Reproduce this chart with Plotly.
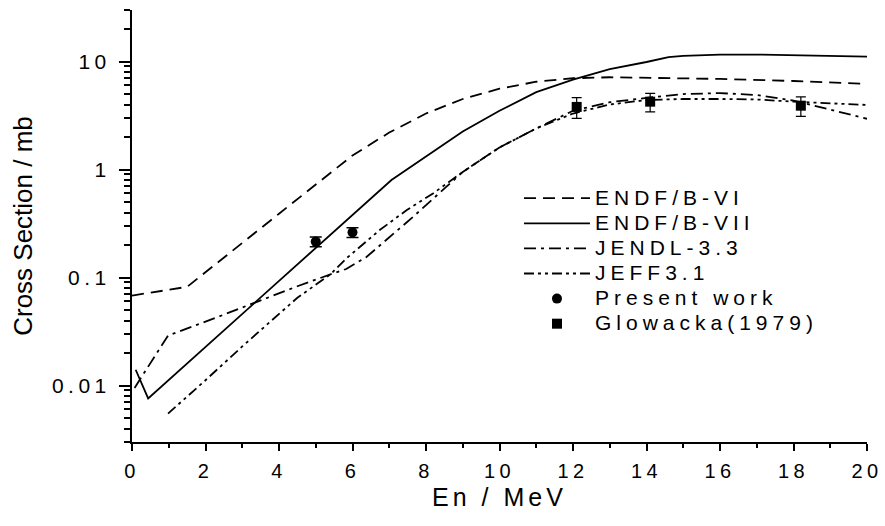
import plotly.graph_objects as go

# ---- data ----
endf6_x = [0, 1.5, 4, 5, 6, 7, 8, 9, 10, 11, 12, 13, 14, 16, 18, 20]
endf6_y = [0.068, 0.082, 0.39, 0.73, 1.35, 2.2, 3.3, 4.5, 5.6, 6.5, 7.0, 7.15, 7.1, 6.9, 6.6, 6.2]

endf7_x = [0.1, 0.44, 7.06, 8, 9, 10, 11, 12, 13, 14, 14.6, 15, 16, 17, 18, 19, 20]
endf7_y = [0.014, 0.0076, 0.80, 1.33, 2.25, 3.5, 5.2, 6.8, 8.5, 9.9, 11.0, 11.3, 11.6, 11.6, 11.4, 11.2, 11.1]

jendl_x = [0.07, 0.98, 2, 3.3, 4.5, 5.4, 5.83, 6.38, 7.01, 7.65, 8.55, 9, 10, 11, 12, 13, 14, 15, 16, 17, 18, 19, 20]
jendl_y = [0.0095, 0.029, 0.039, 0.058, 0.083, 0.107, 0.12, 0.155, 0.238, 0.365, 0.69, 0.95, 1.6, 2.4, 3.5, 4.2, 4.6, 5.0, 5.1, 4.9, 4.35, 3.6, 2.95]

jeff_x = [0.98, 2, 3, 4, 4.5, 5.4, 5.83, 6.74, 7.47, 8.19, 9, 10, 11, 12, 13, 14, 15, 16, 17, 18, 19, 20]
jeff_y = [0.0055, 0.0112, 0.023, 0.046, 0.065, 0.107, 0.15, 0.275, 0.42, 0.6, 0.95, 1.6, 2.4, 3.3, 4.0, 4.4, 4.5, 4.5, 4.45, 4.25, 4.1, 3.96]

present_x = [5, 6]
present_y = [0.215, 0.262]
present_err = [0.022, 0.027]

glow_x = [12.1, 14.1, 18.2]
glow_y = [3.8, 4.25, 3.9]
glow_err = [0.83, 0.83, 0.8]

x_ticks = [0, 2, 4, 6, 8, 10, 12, 14, 16, 18, 20]
y_ticks = [0.01, 0.1, 1, 10]
y_tick_text = ["0.01", "0.1", "1", "10"]
y_minor = [k * 10.0 ** n for n in range(-3, 2) for k in range(2, 10) if 0.003 <= k * 10.0 ** n <= 30]

FONT = "Arial, Liberation Sans, sans-serif"
LW = 1.8

fig = go.Figure()
fig.add_trace(go.Scatter(x=endf6_x, y=endf6_y, mode="lines", name="ENDF/B-VI",
                         line=dict(color="black", width=LW, dash="12px,7px")))
fig.add_trace(go.Scatter(x=endf7_x, y=endf7_y, mode="lines", name="ENDF/B-VII",
                         line=dict(color="black", width=LW)))
fig.add_trace(go.Scatter(x=jendl_x, y=jendl_y, mode="lines", name="JENDL-3.3",
                         line=dict(color="black", width=LW, dash="12px,5px,3px,5px")))
fig.add_trace(go.Scatter(x=jeff_x, y=jeff_y, mode="lines", name="JEFF3.1",
                         line=dict(color="black", width=LW, dash="10px,4px,3px,4px,3px,4px")))
fig.add_trace(go.Scatter(x=present_x, y=present_y, mode="markers", name="Present work",
                         marker=dict(symbol="circle", size=10, color="black"),
                         error_y=dict(type="data", array=present_err, color="black",
                                      thickness=1.5, width=6)))
fig.add_trace(go.Scatter(x=glow_x, y=glow_y, mode="markers", name="Glowacka(1979)",
                         marker=dict(symbol="square", size=10, color="black"),
                         error_y=dict(type="data", array=glow_err, color="black",
                                      thickness=1.2, width=5)))

fig.update_layout(
    width=885, height=526,
    margin=dict(l=132, r=18, t=10, b=84, autoexpand=False),
    paper_bgcolor="white", plot_bgcolor="white",
    font=dict(family=FONT, color="black"),
    showlegend=True,
    legend=dict(x=0.5265, y=0.605, xanchor="left", yanchor="top",
                bgcolor="rgba(0,0,0,0)", borderwidth=0,
                font=dict(size=17, family=FONT, color="black"),
                itemwidth=66, tracegroupgap=0),
    xaxis=dict(range=[0, 20], tickvals=x_ticks, showgrid=False, zeroline=False,
               automargin=False,
               showline=True, linecolor="black", linewidth=2,
               ticks="outside", ticklen=7, tickwidth=2, tickcolor="black",
               ticklabelstandoff=3,
               tickfont=dict(size=20, family=FONT),
               minor=dict(dtick=1, ticks="outside", ticklen=4, tickwidth=2, tickcolor="black", showgrid=False),
               title=dict(text="En / MeV", font=dict(size=25, family=FONT), standoff=7)),
    yaxis=dict(type="log", range=[-2.5229, 1.4771], tickvals=y_ticks, ticktext=y_tick_text,
               showgrid=False, zeroline=False,
               automargin=False,
               showline=True, linecolor="black", linewidth=2,
               ticks="outside", ticklen=11, tickwidth=2, tickcolor="black",
               ticklabelstandoff=4,
               tickfont=dict(size=21, family=FONT),
               minor=dict(tickvals=y_minor, ticks="outside", ticklen=6, tickwidth=1.5, tickcolor="black", showgrid=False),
               title=dict(text="Cross Section / mb", font=dict(size=26, family=FONT), standoff=30)),
)

post = """
var gd = document.getElementById('{plot_id}');
function sp(){
  gd.querySelectorAll('.legend [clip-path]').forEach(function(e){e.removeAttribute('clip-path');});
  gd.querySelectorAll('.legendtext').forEach(function(e){e.style.letterSpacing='5px'; e.style.fontSize='21px';});
  gd.querySelectorAll('.xtitle').forEach(function(e){e.style.letterSpacing='4px';});
  gd.querySelectorAll('.xtick text, .ytick text').forEach(function(e){e.style.letterSpacing='4.5px';});
}
sp(); gd.on('plotly_afterplot', sp);
"""

fig.write_html("out.html", post_script=post)
